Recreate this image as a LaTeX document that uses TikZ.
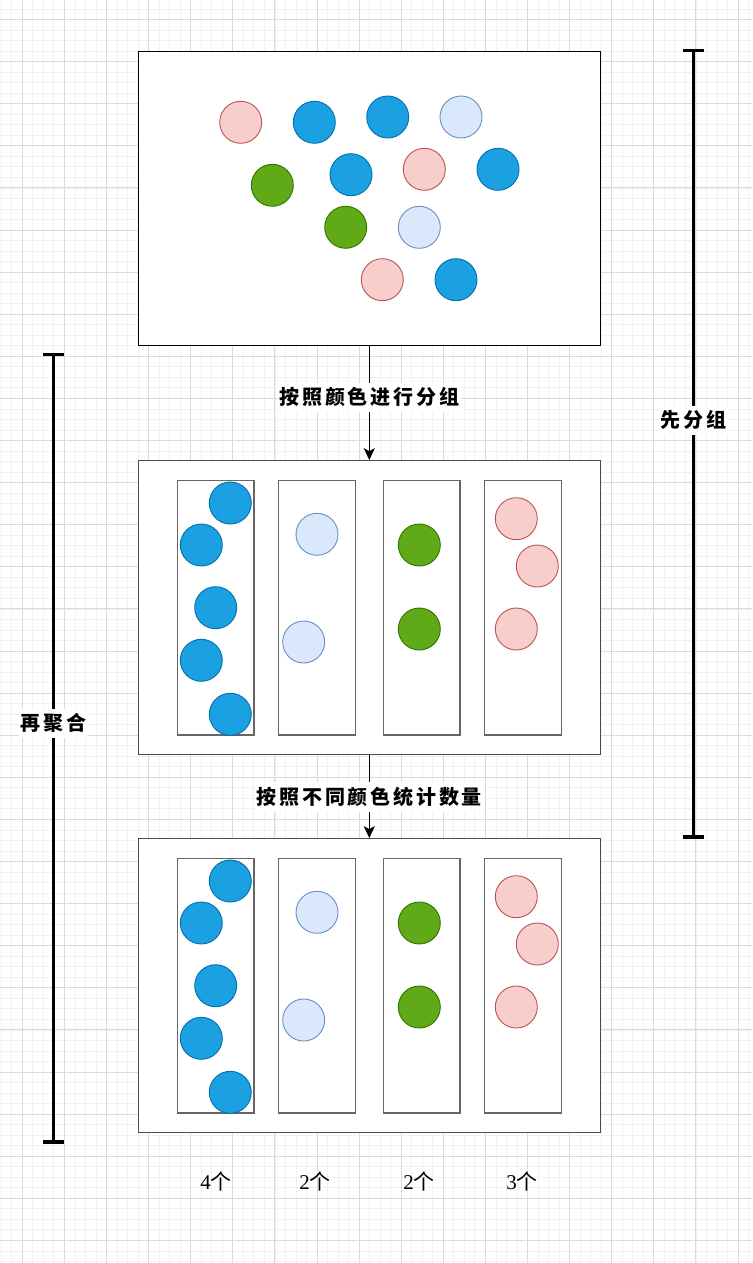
\documentclass[tikz,border=0pt]{standalone}
\usepackage{fontspec}
\setmainfont{Liberation Serif}
\newfontfamily\cjk[LetterSpace=14]{Noto Sans CJK SC}
\newfontfamily\cjkn{Noto Sans CJK SC}
\usetikzlibrary{arrows.meta}
\definecolor{gmaj}{HTML}{DADADA}
\definecolor{gmin}{HTML}{F1F1F1}
\definecolor{bluef}{HTML}{1BA1E2}\definecolor{blued}{HTML}{006EAF}
\definecolor{lbluef}{HTML}{DAE8FC}\definecolor{lblued}{HTML}{6C8EBF}
\definecolor{pinkf}{HTML}{F8CECC}\definecolor{pinkd}{HTML}{B85450}
\definecolor{greenf}{HTML}{60A917}\definecolor{greend}{HTML}{2D7600}
\definecolor{boxd}{HTML}{4D4D4D}
\definecolor{cold}{HTML}{666666}
\tikzset{
  ball/.style={circle,minimum size=42pt,inner sep=0pt,line width=0.9pt},
  bb/.style={ball,fill=bluef,draw=blued},
  lb/.style={ball,fill=lbluef,draw=lblued},
  pb/.style={ball,fill=pinkf,draw=pinkd},
  gb/.style={ball,fill=greenf,draw=greend},
  outerbox/.style={rectangle,draw=#1,fill=white,line width=1.3pt,minimum width=462pt,minimum height=294pt,inner sep=0pt},
  colbox/.style={rectangle,draw=cold,fill=white,line width=1.3pt,minimum width=76.5pt,minimum height=254.5pt,inner sep=0pt},
  arr/.style={line width=1.5pt,-{Stealth[length=12pt,width=11pt,inset=3pt]}},
  brk/.style={line width=3.5pt},
  lbl/.style={fill=white,inner xsep=2pt,inner ysep=5pt,font=\fontsize{20}{22}\cjk\bfseries},
  cnt/.style={font=\fontsize{21}{24}\selectfont},
}
\begin{document}
\begin{tikzpicture}[x=1pt,y=-1pt]
\useasboundingbox (0,0) rectangle (752,1263);
\fill[white] (0,0) rectangle (752,1263);
\begin{scope}
\clip (0,0) rectangle (752,1263);
\foreach \i in {-3,...,72} {\draw[gmin,line width=0.8pt] ({22.3+10.525*\i},0) -- ++(0,1263);}
\foreach \i in {-3,...,121} {\draw[gmin,line width=0.8pt] (0,{19.5+10.525*\i}) -- ++(752,0);}
\foreach \i in {-1,...,18} {\draw[gmaj,line width=1pt] ({22.3+42.1*\i},0) -- ++(0,1263);}
\foreach \i in {-1,...,30} {\draw[gmaj,line width=1pt] (0,{19.5+42.1*\i}) -- ++(752,0);}
\end{scope}

% boxes
\node[outerbox=black] (top) at (369.3,198.3) {};
\node[outerbox=boxd] (mid) at (369.3,607.8) {};
\node[outerbox=boxd] (bot) at (369.3,985.8) {};

% top balls
\node[pb] (t1) at (240.7,122.3) {};
\node[bb] (t2) at (314.3,122.3) {};
\node[bb] (t3) at (387.7,117) {};
\node[lb] (t4) at (461,117) {};
\node[gb] (t5) at (272.3,185.3) {};
\node[bb] (t6) at (351,174.7) {};
\node[pb] (t7) at (424.3,169.3) {};
\node[bb] (t8) at (498,169.3) {};
\node[gb] (t9) at (345.7,227.3) {};
\node[lb] (t10) at (419.3,227.3) {};
\node[pb] (t11) at (382.3,279.7) {};
\node[bb] (t12) at (456,279.7) {};

% middle and bottom grouped boxes
\foreach \p/\dy in {m/0,b/378} {
  \node[colbox] (\p c1) at (215.85,{607.85+\dy}) {};
  \node[colbox] (\p c2) at (317,{607.85+\dy}) {};
  \node[colbox] (\p c3) at (421.85,{607.85+\dy}) {};
  \node[colbox] (\p c4) at (523,{607.85+\dy}) {};
  \node[bb] (\p b1) at (230.3,{503+\dy}) {};
  \node[bb] (\p b2) at (201.3,{545+\dy}) {};
  \node[bb] (\p b3) at (215.7,{607.7+\dy}) {};
  \node[bb] (\p b4) at (201.3,{660.3+\dy}) {};
  \node[bb] (\p b5) at (230.3,{714.3+\dy}) {};
  \node[lb] (\p l1) at (317,{534.3+\dy}) {};
  \node[lb] (\p l2) at (303.7,{642+\dy}) {};
  \node[gb] (\p g1) at (419.3,{545+\dy}) {};
  \node[gb] (\p g2) at (419.3,{629+\dy}) {};
  \node[pb] (\p p1) at (516.3,{518.7+\dy}) {};
  \node[pb] (\p p2) at (537.3,{566+\dy}) {};
  \node[pb] (\p p3) at (516.3,{629+\dy}) {};
}

% arrows
\draw[arr] (top.south) -- node[lbl,pos=0.45] (a1) {按照颜色进行分组} (mid.north);
\draw[arr] (mid.south) -- node[lbl,pos=0.5] (a2) {按照不同颜色统计数量} (bot.north);

% brackets
\coordinate (rt) at (693.5,50.7);
\coordinate (rb) at (693.5,837);
\coordinate (lt) at (53.5,354.7);
\coordinate (lb) at (53.5,1142);
\draw[brk] (rt) -- node[lbl,pos=0.47] (rl) {先分组} (rb);
\draw[brk] ([xshift=-10.5pt]rt) -- ([xshift=10.5pt]rt);
\draw[brk] ([xshift=-10.5pt]rb) -- ([xshift=10.5pt]rb);
\draw[brk] (lt) -- node[lbl,pos=0.468] (ll) {再聚合} (lb);
\draw[brk] ([xshift=-10.5pt]lt) -- ([xshift=10.5pt]lt);
\draw[brk] ([xshift=-10.5pt]lb) -- ([xshift=10.5pt]lb);

% counts
\node[cnt] (n1) at (216,1181.7) {4\cjkn 个};
\node[cnt] (n2) at (315,1181.7) {2\cjkn 个};
\node[cnt] (n3) at (419,1181.7) {2\cjkn 个};
\node[cnt] (n4) at (522,1181.7) {3\cjkn 个};
\end{tikzpicture}
\end{document}
